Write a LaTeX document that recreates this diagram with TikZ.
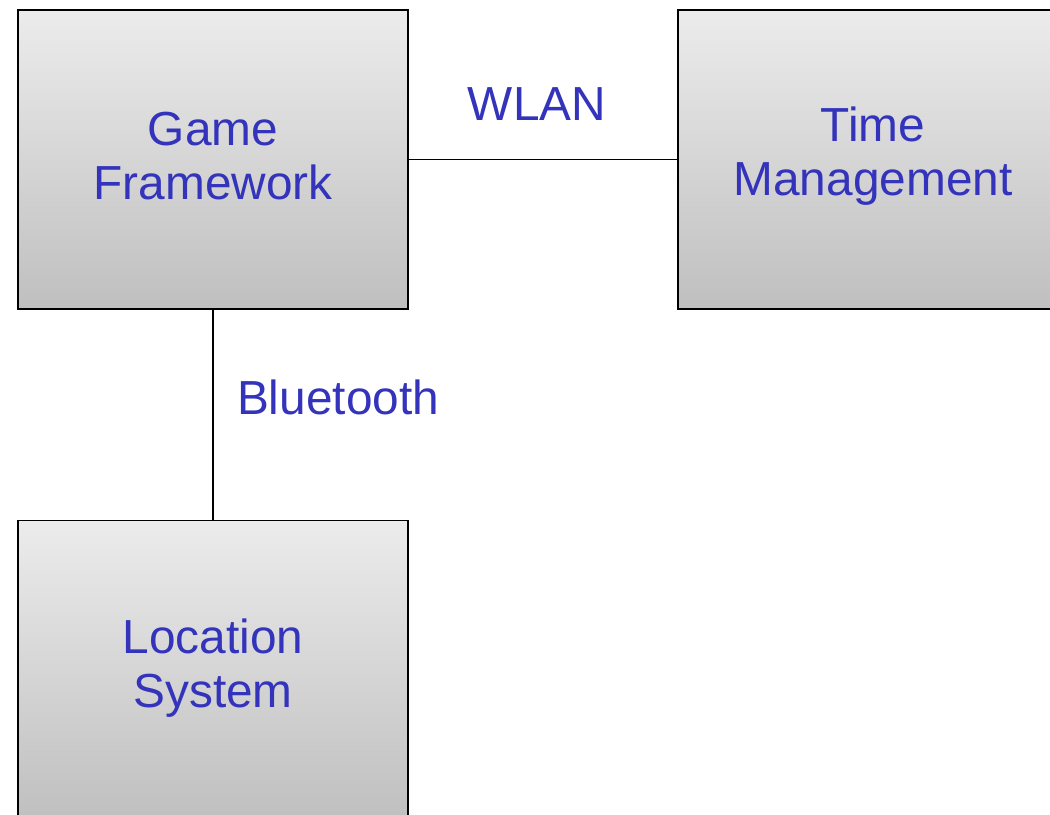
\documentclass[tikz,border=0pt]{standalone}
\usepackage{fontspec}
\setmainfont{Liberation Sans}
\usepackage{tikz}
\usetikzlibrary{positioning,calc}

\definecolor{labelblue}{RGB}{51,51,187}

\tikzset{
  sysbox/.style={draw=black, line width=1.4pt, top color=gray!15, bottom color=gray!50,
    minimum width=9.75cm, minimum height=7.475cm, inner sep=0pt, align=center,
    text=labelblue, font=\fontsize{34}{38}\selectfont},
  boxtext/.style={text=labelblue, font=\fontsize{34}{38}\selectfont, align=center, inner sep=0pt},
  linklabel/.style={text=labelblue, font=\fontsize{34}{38}\selectfont, inner sep=0pt},
  link/.style={draw=black, line width=1.4pt}
}

\begin{document}
\begin{tikzpicture}
    \useasboundingbox (0, 0) rectangle (26.25, 20.35);
    \clip (0, 0) rectangle (26.25, 20.35);

    \node[sysbox] (gameFw) at (5.325, 16.3625) {};
    \node[sysbox] (timeMgmt) at (21.825, 16.3625) {};
    \node[sysbox] (locSys) at (5.325, 3.6) {};

    \node[boxtext] (gameFwText) at (5.325, 16.45) {Game\\Framework};
    \node[boxtext] (timeMgmtText) at (21.825, 16.45) {Time\\Management};
    \node[boxtext] (locSysText) at (5.325, 3.65) {Location\\System};

    \draw[link] (gameFw.east) -- (timeMgmt.west);
    \draw[link] (gameFw.south) -- (locSys.north);

    \node[linklabel] (wlan) at (13.425, 17.75) {WLAN};
    \node[linklabel, anchor=west] (bt) at (5.92, 10.425) {Bluetooth};
  \end{tikzpicture}
\end{document}
